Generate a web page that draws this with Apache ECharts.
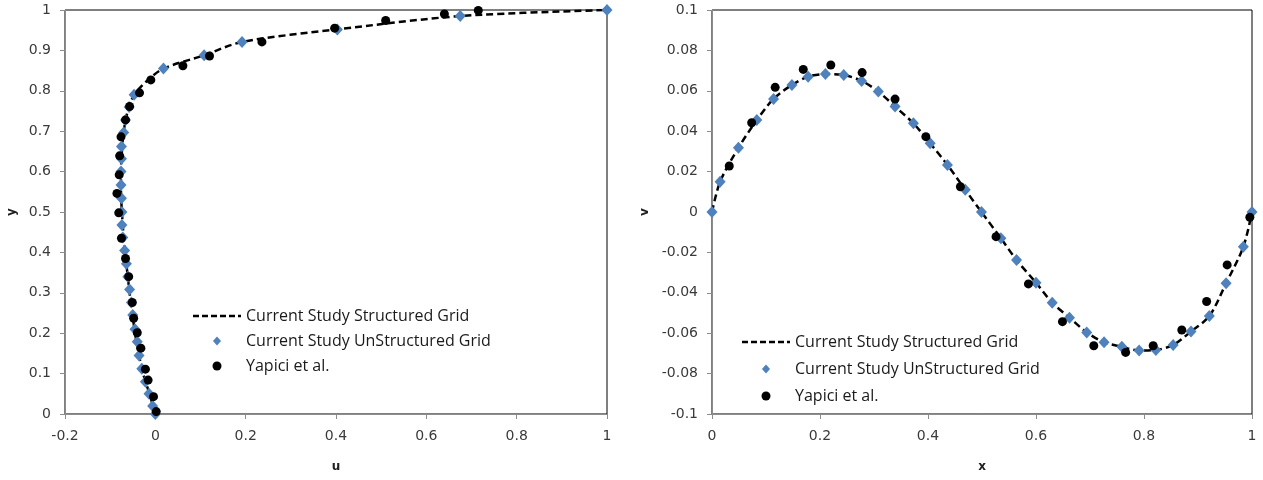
<!DOCTYPE html>
<html>
<head>
<meta charset="utf-8">
<script src="https://cdn.jsdelivr.net/npm/echarts@6/dist/echarts.min.js"></script>
<style>
html,body{margin:0;padding:0;background:#fff;}
#chart{width:1263px;height:480px;}
</style>
</head>
<body>
<div id="chart"></div>
<script>
// ---- Left chart: u along vertical centreline ----
const leftStructU = [0, -0.013, -0.027, -0.037, -0.045, -0.051, -0.057, -0.062, -0.067, -0.071, -0.074, -0.076, -0.076, -0.074, -0.070, -0.061, -0.047, -0.018, 0.018, 0.108, 0.192, 0.403, 0.675, 1.0];
const leftStructY = [0, 0.05, 0.10, 0.15, 0.20, 0.25, 0.30, 0.35, 0.40, 0.45, 0.50, 0.55, 0.60, 0.65, 0.70, 0.75, 0.79, 0.825, 0.855, 0.888, 0.921, 0.952, 0.985, 1.0];

const leftUnstructU = [1.0, 0.675, 0.403, 0.192, 0.108, 0.018, -0.047, -0.058, -0.066, -0.070, -0.075, -0.075, -0.076, -0.076, -0.075, -0.074, -0.074, -0.072, -0.068, -0.064, -0.061, -0.057, -0.053, -0.050, -0.045, -0.040, -0.036, -0.030, -0.022, -0.014, -0.006, 0.0];
const leftUnstructY = [1.0, 0.985, 0.952, 0.921, 0.888, 0.855, 0.790, 0.760, 0.728, 0.697, 0.662, 0.632, 0.600, 0.567, 0.534, 0.500, 0.468, 0.437, 0.405, 0.372, 0.340, 0.308, 0.276, 0.245, 0.210, 0.179, 0.145, 0.112, 0.080, 0.050, 0.020, 0.0];

const leftYapiciU = [0.715, 0.64, 0.51, 0.397, 0.236, 0.12, 0.061, -0.01, -0.035, -0.057, -0.066, -0.076, -0.079, -0.080, -0.085, -0.081, -0.075, -0.066, -0.059, -0.051, -0.048, -0.040, -0.032, -0.022, -0.016, -0.004, 0.002];
const leftYapiciY = [0.999, 0.99, 0.974, 0.955, 0.921, 0.886, 0.862, 0.827, 0.795, 0.761, 0.728, 0.686, 0.639, 0.592, 0.546, 0.498, 0.435, 0.385, 0.340, 0.276, 0.237, 0.201, 0.163, 0.111, 0.084, 0.043, 0.006];

// ---- Right chart: v along horizontal centreline ----
const rightStructX = [0, 0.015, 0.049, 0.083, 0.114, 0.148, 0.178, 0.21, 0.244, 0.277, 0.308, 0.339, 0.373, 0.404, 0.436, 0.469, 0.499, 0.535, 0.564, 0.60, 0.63, 0.662, 0.694, 0.726, 0.759, 0.791, 0.822, 0.854, 0.887, 0.921, 0.952, 0.984, 1.0];
const rightStructV = [0, 0.015, 0.0318, 0.0455, 0.056, 0.0629, 0.067, 0.0683, 0.0678, 0.0649, 0.0596, 0.0522, 0.0439, 0.034, 0.0233, 0.011, 0.0, -0.013, -0.0238, -0.035, -0.0449, -0.0523, -0.0596, -0.0645, -0.0667, -0.0686, -0.0683, -0.0658, -0.0592, -0.0515, -0.0353, -0.0172, 0.0];

const rightUnstructX = [0, 0.015, 0.049, 0.083, 0.114, 0.148, 0.178, 0.21, 0.244, 0.277, 0.308, 0.339, 0.373, 0.404, 0.436, 0.469, 0.499, 0.535, 0.564, 0.60, 0.63, 0.662, 0.694, 0.726, 0.759, 0.791, 0.822, 0.854, 0.887, 0.921, 0.952, 0.984, 1.0];
const rightUnstructV = [0, 0.015, 0.0318, 0.0455, 0.056, 0.0629, 0.067, 0.0683, 0.0678, 0.0649, 0.0596, 0.0522, 0.0439, 0.034, 0.0233, 0.011, 0.0, -0.013, -0.0238, -0.035, -0.0449, -0.0523, -0.0596, -0.0645, -0.0667, -0.0686, -0.0683, -0.0658, -0.0592, -0.0515, -0.0353, -0.0172, 0.0];

const rightYapiciX = [0.032, 0.0735, 0.117, 0.169, 0.22, 0.278, 0.339, 0.396, 0.46, 0.526, 0.586, 0.649, 0.707, 0.766, 0.817, 0.87, 0.916, 0.954, 0.996];
const rightYapiciV = [0.0228, 0.0442, 0.0617, 0.0706, 0.0728, 0.069, 0.0559, 0.0373, 0.0125, -0.0122, -0.0356, -0.0543, -0.0662, -0.0695, -0.0662, -0.0584, -0.0443, -0.0262, -0.0026];

const seriesNames = ['Current Study Structured Grid', 'Current Study UnStructured Grid', 'Yapici et al.'];
const leftXTicks = {min: -0.2, max: 1, interval: 0.2};
const leftYTicks = {min: 0, max: 1, interval: 0.1};
const rightXTicks = {min: 0, max: 1, interval: 0.2};
const rightYTicks = {min: -0.1, max: 0.1, interval: 0.02};

const zip = (a, b) => a.map((v, i) => [v, b[i]]);
const fmt = v => String(parseFloat(v.toFixed(3)));

const BLUE = '#4F81BD';
const AXIS_GRAY = '#8c8c8c';
const LABEL_FONT = {fontFamily: 'DejaVu Sans', fontSize: 14, color: '#3a3a3a'};

function valueAxis(ticks, gridIndex, labelMargin, extra) {
  return Object.assign({
    type: 'value', gridIndex,
    min: ticks.min, max: ticks.max, interval: ticks.interval,
    splitLine: {show: false},
    axisLine: {show: true, onZero: false, lineStyle: {color: AXIS_GRAY, width: 1}},
    axisTick: {show: true, inside: false, length: 5, lineStyle: {color: AXIS_GRAY}},
    axisLabel: Object.assign({formatter: fmt, margin: labelMargin}, LABEL_FONT),
    nameTextStyle: {fontFamily: 'DejaVu Sans', fontSize: 12, fontWeight: 'bold', color: '#202020'}
  }, extra);
}

function seriesFor(idx, structX, structY, unX, unY, yaX, yaY) {
  return [
    {name: seriesNames[0], type: 'line', xAxisIndex: idx, yAxisIndex: idx,
     data: zip(structX, structY), symbol: 'none', showSymbol: false, smooth: 0.3,
     lineStyle: {color: '#000', width: 2.5, type: [7, 4]}, itemStyle: {color: '#000'}, z: 2},
    {name: seriesNames[1], type: 'scatter', xAxisIndex: idx, yAxisIndex: idx,
     data: zip(unX, unY), symbol: 'diamond', symbolSize: [11, 12],
     itemStyle: {color: BLUE, opacity: 1}, z: 3},
    {name: seriesNames[2], type: 'scatter', xAxisIndex: idx, yAxisIndex: idx,
     data: zip(yaX, yaY), symbol: 'circle', symbolSize: 9,
     itemStyle: {color: '#000', opacity: 1}, z: 4}
  ];
}

const DASH_ICON = 'path://M0 0h6v2.5h-6z M9 0h6v2.5h-6z M18 0h6v2.5h-6z M27 0h6v2.5h-6z M36 0h6v2.5h-6z M45 0h3v2.5h-3z';
const DIAMOND_ICON = 'path://M4.5 0L9 5L4.5 10L0 5Z';

const legendBase = {
  orient: 'vertical',
  data: [
    {name: seriesNames[0], icon: DASH_ICON, itemStyle: {color: '#000', borderWidth: 0, opacity: 1}},
    {name: seriesNames[1], icon: DIAMOND_ICON, itemStyle: {color: BLUE, borderWidth: 0, opacity: 1}},
    {name: seriesNames[2], icon: 'circle', itemStyle: {color: '#000', borderWidth: 0, opacity: 1}}
  ],
  itemWidth: 48, itemHeight: 9, symbolKeepAspect: true, padding: 0,
  textStyle: {fontFamily: 'Open Sans', fontSize: 16, color: '#1a1a1a', lineHeight: 16},
  selectedMode: false
};

const chart = echarts.init(document.getElementById('chart'), null, {renderer: 'canvas'});
chart.setOption({
  animation: false,
  backgroundColor: '#fff',
  grid: [
    {left: 65, right: 656, top: 10, bottom: 66, show: true, borderColor: '#000', borderWidth: 1, backgroundColor: 'transparent'},
    {left: 712, right: 11, top: 10, bottom: 66, show: true, borderColor: '#000', borderWidth: 1, backgroundColor: 'transparent'}
  ],
  xAxis: [
    valueAxis(leftXTicks, 0, 15, {name: 'u', nameLocation: 'middle', nameGap: 47}),
    valueAxis(rightXTicks, 1, 15, {name: 'x', nameLocation: 'middle', nameGap: 47})
  ],
  yAxis: [
    valueAxis(leftYTicks, 0, 14, {name: 'y', nameLocation: 'middle', nameGap: 47, nameRotate: 90}),
    valueAxis(rightYTicks, 1, 14, {name: 'v', nameLocation: 'middle', nameGap: 61, nameRotate: 90})
  ],
  legend: [
    Object.assign({}, legendBase, {left: 193, top: 308, itemGap: 9}),
    Object.assign({}, legendBase, {left: 742, top: 334, itemGap: 11})
  ],
  series: [
    ...seriesFor(0, leftStructU, leftStructY, leftUnstructU, leftUnstructY, leftYapiciU, leftYapiciY),
    ...seriesFor(1, rightStructX, rightStructV, rightUnstructX, rightUnstructV, rightYapiciX, rightYapiciV)
  ]
});
</script>
</body>
</html>
